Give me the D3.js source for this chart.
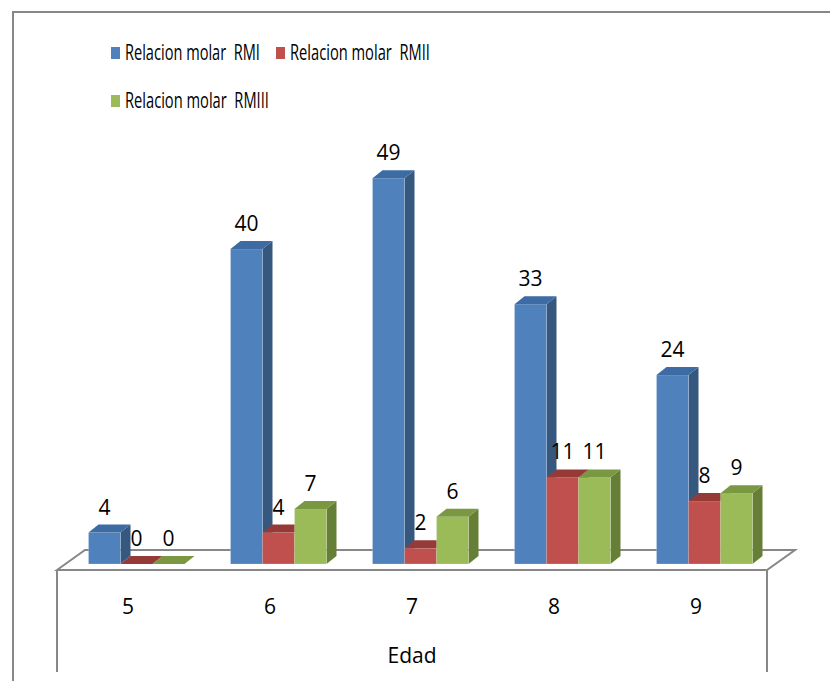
<!DOCTYPE html>
<html>
<head>
<meta charset="utf-8">
<script src="https://cdn.jsdelivr.net/npm/d3@7"></script>
<style>
  html, body { margin: 0; padding: 0; background: #fff; }
  svg { display: block; }
</style>
</head>
<body>
<svg id="chart" width="830" height="681"></svg>
<script>
// Data
const categories = ["5", "6", "7", "8", "9"];
const seriesNames = ["Relacion molar  RMI", "Relacion molar  RMII", "Relacion molar  RMIII"];
const rmi   = [4, 40, 49, 33, 24];
const rmii  = [0, 4, 2, 11, 8];
const rmiii = [0, 7, 6, 11, 9];
const axisTitle = "Edad";

const seriesValues = [rmi, rmii, rmiii];
const palette = [
  { front: "#4F81BD", top: "#3D6BA4", side: "#36587F" },
  { front: "#C0504D", top: "#953A37", side: "#8A3532" },
  { front: "#9BBB59", top: "#7A9842", side: "#667F37" }
];

const svg = d3.select("#chart");
const font = "'Open Sans', 'DejaVu Sans', sans-serif";

// Outer frame (top and left edges)
svg.append("path")
  .attr("d", "M13,681 L13,12 L830,12")
  .attr("fill", "none").attr("stroke", "#878787").attr("stroke-width", 2);

// Front-plane geometry of the 3D floor
const floorLeft = 57, floorRight = 767, floorY = 570;
const floorDx = 28, floorDy = -20;     // full depth of floor
const barShiftX = 8.5, barShiftY = -6;  // bars sit mid-depth
const barDx = 10, barDy = -8;          // bar thickness

const x0 = d3.scaleBand().domain(categories).range([floorLeft, floorRight]).padding(0);
const x1 = d3.scaleBand().domain(d3.range(3)).range([23, x0.bandwidth() - 23]).padding(0);
const y = d3.scaleLinear().domain([0, 50]).range([floorY, floorY - 393.75]);

// Floor outline
const floor = svg.append("g").attr("fill", "none").attr("stroke", "#878787").attr("stroke-width", 2);
floor.append("path").attr("d",
  `M${floorLeft},${floorY} L${floorLeft + floorDx},${floorY + floorDy} L${floorRight + floorDx},${floorY + floorDy} L${floorRight},${floorY} Z`);
floor.append("line").attr("x1", floorLeft).attr("y1", floorY).attr("x2", floorLeft).attr("y2", 672);
floor.append("line").attr("x1", floorRight).attr("y1", floorY).attr("x2", floorRight).attr("y2", 672);

// Bars, drawn left to right so each covers its neighbour's hidden side
const bars = svg.append("g");
categories.forEach((c, ci) => {
  seriesValues.forEach((vals, si) => {
    const v = vals[ci];
    const xl = x0(c) + x1(si) + barShiftX;
    const xr = xl + x1.bandwidth();
    const yb = y(0) + barShiftY;
    const yt = y(v) + barShiftY;
    const col = palette[si];
    const g = bars.append("g");
    // side face
    g.append("path")
      .attr("d", `M${xr},${yb} L${xr + barDx},${yb + barDy} L${xr + barDx},${yt + barDy} L${xr},${yt} Z`)
      .attr("fill", col.side);
    // front face
    if (v > 0) {
      g.append("rect")
        .attr("x", xl).attr("y", yt).attr("width", xr - xl).attr("height", yb - yt)
        .attr("fill", col.front)
        .attr("stroke", "rgba(255,255,255,0.35)").attr("stroke-width", 0.6);
    }
    // top face
    g.append("path")
      .attr("d", `M${xl},${yt} L${xr},${yt} L${xr + barDx},${yt + barDy} L${xl + barDx},${yt + barDy} Z`)
      .attr("fill", col.top);
    // value label
    g.append("text")
      .attr("x", (xl + xr) / 2).attr("y", yt - 18)
      .attr("text-anchor", "middle")
      .attr("font-family", font).attr("font-size", 21).attr("fill", "#000")
      .text(v);
  });
});

// Category labels
svg.append("g").selectAll("text").data(categories).join("text")
  .attr("x", d => x0(d) + x0.bandwidth() / 2)
  .attr("y", 614)
  .attr("text-anchor", "middle")
  .attr("font-family", font).attr("font-size", 21).attr("fill", "#000")
  .text(d => d);

// Axis title
svg.append("text")
  .attr("x", 412).attr("y", 663)
  .attr("text-anchor", "middle")
  .attr("font-family", font).attr("font-size", 21).attr("fill", "#000")
  .text(axisTitle);

// Legend: condensed labels, squeezed horizontally to fit their slot
const legendPos = [
  { x: 111, y: 47, len: 135 },
  { x: 276, y: 47, len: 140 },
  { x: 111, y: 95, len: 144 }
];
const legend = svg.append("g");
seriesNames.forEach((name, i) => {
  const p = legendPos[i];
  legend.append("rect")
    .attr("x", p.x).attr("y", p.y).attr("width", 9).attr("height", 12)
    .attr("fill", palette[i].front);
  const t = legend.append("text")
    .attr("x", 0).attr("y", 0)
    .attr("font-family", font).attr("font-size", 22).attr("fill", "#000")
    .style("white-space", "pre")
    .text(name);
  const w = t.node().getComputedTextLength();
  t.attr("transform", `translate(${p.x + 14},${p.y + 13}) scale(${p.len / w},1)`);
});
</script>
</body>
</html>
